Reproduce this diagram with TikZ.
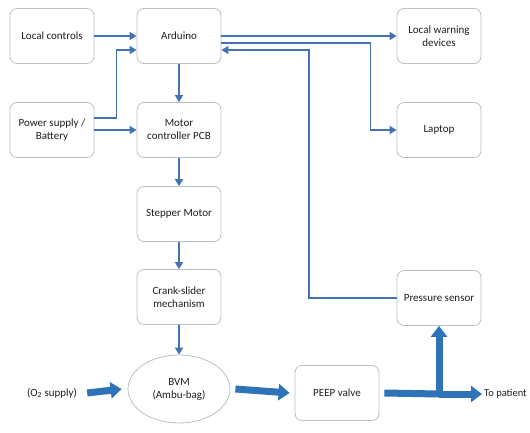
\documentclass[tikz,border=0pt]{standalone}
\usepackage{fontspec}
\setmainfont{Carlito}
\usetikzlibrary{positioning,arrows.meta,calc,shapes.geometric}
\definecolor{vtBlue}{RGB}{68,112,180}
\definecolor{vtFlow}{RGB}{46,114,184}
\definecolor{vtEdge}{RGB}{185,192,200}
\definecolor{vtText}{RGB}{30,30,30}
\tikzset{
    base/.style={font=\fontsize{11}{13}\selectfont, align=center, text=vtText},
    block/.style={base, rectangle, rounded corners=7pt, draw=vtEdge, line width=0.8pt,
                  fill=white, minimum width=84pt, minimum height=55pt, inner sep=2pt},
    bag/.style={base, ellipse, draw=vtEdge, line width=0.8pt, fill=white,
                minimum width=102pt, minimum height=68pt, inner sep=0pt},
    plain/.style={base, inner sep=1pt},
    wire/.style={-{Triangle[width=8pt,length=7pt]}, line width=1.8pt, color=vtBlue},
    pipe/.style={-{Triangle[width=16pt,length=11pt]}, line width=7pt, color=vtFlow}
}
\begin{document}
\begin{tikzpicture}[x=1pt, y=-1pt]
  \useasboundingbox (0,0) rectangle (530,433);
  % Left column
  \node[block] (loc) at (52,36) {Local controls};
  \node[block] (pwr) at (52,130) {Power supply /\\Battery};
  % Centre column
  \node[block] (ard) at (179,36) {Arduino};
  \node[block] (mcu) at (179,130) {Motor\\controller PCB};
  \node[block] (stp) at (179,214) {Stepper Motor};
  \node[block] (crk) at (179,297) {Crank-slider\\mechanism};
  \node[bag] (bvm) at (179,389) {BVM\\(Ambu-bag)};
  % Right column
  \node[block] (warn) at (439,36) {Local warning\\devices};
  \node[block] (lap) at (439,130) {Laptop};
  \node[block] (sen) at (439,298) {Pressure sensor};
  \node[block] (peep) at (337,393) {PEEP valve};
  % Gas path labels
  \node[plain] (oxy) at (52,393) {(O\textsubscript{2} supply)};
  \node[plain, anchor=west, inner sep=0pt, font=\fontsize{10.5}{12}\selectfont] (pat) at (484,394) {To patient};
  \coordinate (tap) at (439,394);

  % Signal wires
  \draw[wire] (loc.east) -- (ard.west);
  \draw[wire] ([yshift=12pt]pwr.east) -- ++(22,0) |- ([yshift=-14pt]ard.west);
  \draw[wire] (pwr.east) -- (mcu.west);
  \draw[wire] (ard) -- (mcu);
  \draw[wire] (mcu) -- (stp);
  \draw[wire] (stp) -- (crk);
  \draw[wire] (crk) -- (bvm);
  \draw[wire] (ard.east) -- (warn.west);
  \draw[wire] ([yshift=-7pt]ard.east) -- ++(149,0) |- (lap.west);
  \draw[wire] (sen.west) -- ++(-88,0) |- ([yshift=-14pt]ard.east);

  % Gas flow
  \draw[pipe] ([xshift=9pt]oxy.east) -- ([xshift=-6pt]bvm.west);
  \draw[pipe] ([xshift=5pt]bvm.east) -- ([xshift=-5pt]peep.west);
  \draw[pipe, -] ([xshift=5pt]peep.east) -- (tap);
  \draw[pipe] (tap) -- ([xshift=-2pt]pat.west);
  \draw[pipe] ([yshift=3pt]tap) -- (sen.south);
\end{tikzpicture}
\end{document}
